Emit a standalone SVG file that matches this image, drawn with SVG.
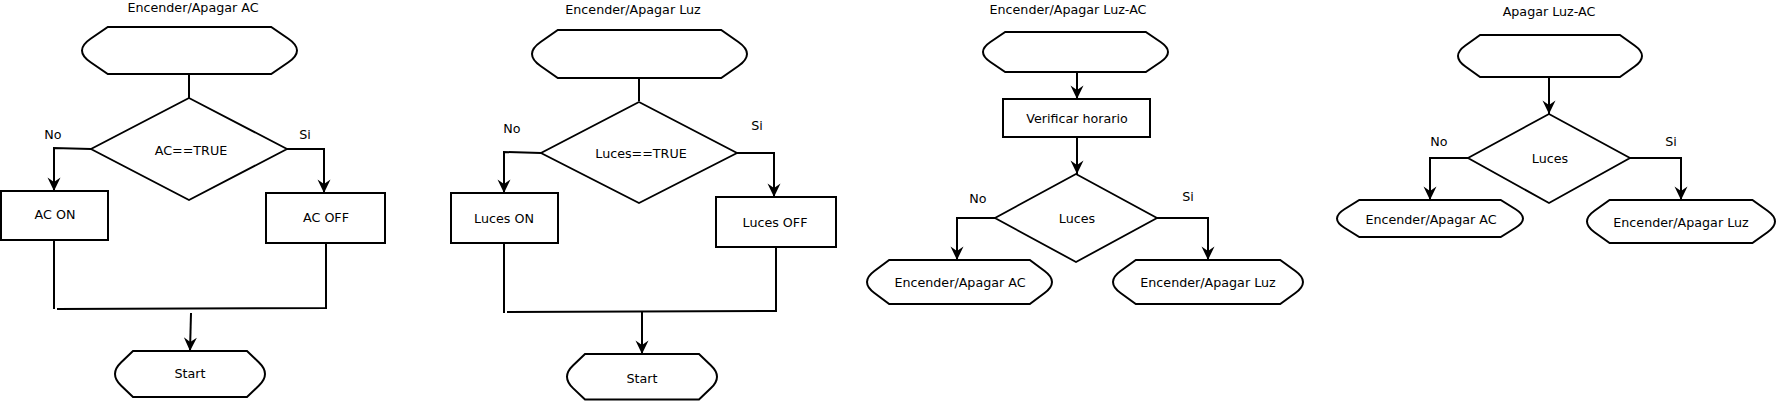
<svg xmlns="http://www.w3.org/2000/svg" width="1777" height="401" viewBox="0 0 1777 401">
<style>
.s{fill:#fff;stroke:#000;stroke-width:2;stroke-linejoin:miter}
.d{fill:#fff;stroke:#000;stroke-width:1.8}
.t{font-family:"DejaVu Sans",Verdana,sans-serif;font-size:12.7px;fill:#000;text-anchor:middle}
.c{fill:none;stroke:#000;stroke-width:2}
.a{marker-end:url(#ah)}
</style>
<defs>
<marker id="ah" markerUnits="userSpaceOnUse" markerWidth="15" markerHeight="15" viewBox="0 0 15 15" refX="14" refY="7.5" orient="auto">
<path d="M14,7.5 L0.5,1 L5,7.5 L0.5,14 Z" fill="#000"/>
</marker>
</defs>
<rect width="1777" height="401" fill="#fff"/>

<g id="titles">
<text class="t" x="193" y="12.3">Encender/Apagar AC</text>
<text class="t" x="633" y="14.3">Encender/Apagar Luz</text>
<text class="t" x="1068" y="14.3">Encender/Apagar Luz-AC</text>
<text class="t" x="1549" y="15.7">Apagar Luz-AC</text>
</g>

<g id="connectors">
<path class="c" d="M189,74 L189,98"/>
<path class="c a" d="M91,149 L54,148 L54,191"/>
<path class="c a" d="M287,149 L324,149 L324,193"/>
<path class="c" d="M54,240 L54,309"/>
<path class="c" d="M326,243 L326,308 L57,309"/>
<path class="c a" d="M191,313 L190,351"/>

<path class="c" d="M639,78 L639,101"/>
<path class="c a" d="M541,153 L504,152 L504,193"/>
<path class="c a" d="M737,153 L774,153 L774,197"/>
<path class="c" d="M504,243 L504,313"/>
<path class="c" d="M776,247 L776,311 L507,312"/>
<path class="c a" d="M642,312 L642,354"/>

<path class="c a" d="M1077,72 L1077,99"/>
<path class="c a" d="M1077,137 L1077,174"/>
<path class="c a" d="M995,218 L957,218 L957,260"/>
<path class="c a" d="M1157,218 L1208,218 L1208,260"/>

<path class="c a" d="M1549,77 L1549,114"/>
<path class="c a" d="M1468,158 L1430,158 L1430,200"/>
<path class="c a" d="M1630,158 L1681,158 L1681,200"/>
</g>

<g id="d1-start">
<path class="s" d="M107.8,27 L271.2,27 L288.4,38.75 Q305.6,50.5 288.4,62.25 L271.2,74 L107.8,74 L90.6,62.25 Q73.4,50.5 90.6,38.75 Z"/>
</g>
<g id="d1-decision">
<path class="d" d="M189,98 L287,149 L189,200 L91,149 Z"/>
<text class="t" x="191" y="154.5">AC==TRUE</text>
<text class="t" x="53" y="139.3">No</text>
<text class="t" x="305" y="139.3">Si</text>
</g>
<g id="d1-acon">
<rect class="s" x="1" y="191" width="107" height="49"/>
<text class="t" x="55" y="219.3">AC ON</text>
</g>
<g id="d1-acoff">
<rect class="s" x="266" y="193" width="119" height="50"/>
<text class="t" x="326" y="222.3">AC OFF</text>
</g>
<g id="d1-end">
<path class="s" d="M133,351 L247,351 L259,362.5 Q271,374 259,385.5 L247,397 L133,397 L121,385.5 Q109,374 121,362.5 Z"/>
<text class="t" x="190" y="378.3">Start</text>
</g>

<g id="d2-start">
<path class="s" d="M557.8,30 L721.2,30 L738.4,42 Q755.6,54 738.4,66 L721.2,78 L557.8,78 L540.6,66 Q523.4,54 540.6,42 Z"/>
</g>
<g id="d2-decision">
<path class="d" d="M639,102 L737,153 L639,203 L541,153 Z"/>
<text class="t" x="641" y="158.3">Luces==TRUE</text>
<text class="t" x="512" y="132.7">No</text>
<text class="t" x="757" y="130">Si</text>
</g>
<g id="d2-on">
<rect class="s" x="451" y="193" width="107" height="50"/>
<text class="t" x="504" y="223.3">Luces ON</text>
</g>
<g id="d2-off">
<rect class="s" x="716" y="197" width="120" height="50"/>
<text class="t" x="775" y="226.7">Luces OFF</text>
</g>
<g id="d2-end">
<path class="s" d="M585,354 L699,354 L711,365.4 Q723,376.75 711,388.1 L699,399.5 L585,399.5 L573,388.1 Q561,376.75 573,365.4 Z"/>
<text class="t" x="642" y="382.7">Start</text>
</g>

<g id="d3-start">
<path class="s" d="M1005.2,32 L1145.8,32 L1160.6,42 Q1175.4,52 1160.6,62 L1145.8,72 L1005.2,72 L990.4,62 Q975.6,52 990.4,42 Z"/>
</g>
<g id="d3-verify">
<rect class="s" x="1003" y="99" width="147" height="38"/>
<text class="t" x="1077" y="123.3">Verificar horario</text>
</g>
<g id="d3-decision">
<path class="d" d="M1076,174 L1157,218 L1076,262 L995,218 Z"/>
<text class="t" x="1077" y="223.3">Luces</text>
<text class="t" x="978" y="203.3">No</text>
<text class="t" x="1188" y="201.3">Si</text>
</g>
<g id="d3-ac">
<path class="s" d="M889.2,260 L1029.8,260 L1044.6,271 Q1059.4,282 1044.6,293 L1029.8,304 L889.2,304 L874.4,293 Q859.6,282 874.4,271 Z"/>
<text class="t" x="960" y="286.7">Encender/Apagar AC</text>
</g>
<g id="d3-luz">
<path class="s" d="M1135.8,260 L1280.2,260 L1295.4,271 Q1310.6,282 1295.4,293 L1280.2,304 L1135.8,304 L1120.6,293 Q1105.4,282 1120.6,271 Z"/>
<text class="t" x="1208" y="286.7">Encender/Apagar Luz</text>
</g>

<g id="d4-start">
<path class="s" d="M1480.1,35 L1619.9,35 L1634.6,45.5 Q1649.4,56 1634.6,66.5 L1619.9,77 L1480.1,77 L1465.4,66.5 Q1450.6,56 1465.4,45.5 Z"/>
</g>
<g id="d4-decision">
<path class="d" d="M1549,114 L1630,158 L1549,203 L1468,158 Z"/>
<text class="t" x="1550" y="163.3">Luces</text>
<text class="t" x="1439" y="145.7">No</text>
<text class="t" x="1671" y="145.7">Si</text>
</g>
<g id="d4-ac">
<path class="s" d="M1359.3,200 L1500.7,200 L1515.6,209.25 Q1530.4,218.5 1515.6,227.75 L1500.7,237 L1359.3,237 L1344.4,227.75 Q1329.6,218.5 1344.4,209.25 Z"/>
<text class="t" x="1431" y="224">Encender/Apagar AC</text>
</g>
<g id="d4-luz">
<path class="s" d="M1609.6,200 L1752.4,200 L1767.5,210.75 Q1782.5,221.5 1767.5,232.25 L1752.4,243 L1609.6,243 L1594.5,232.25 Q1579.5,221.5 1594.5,210.75 Z"/>
<text class="t" x="1681" y="226.7">Encender/Apagar Luz</text>
</g>
</svg>
